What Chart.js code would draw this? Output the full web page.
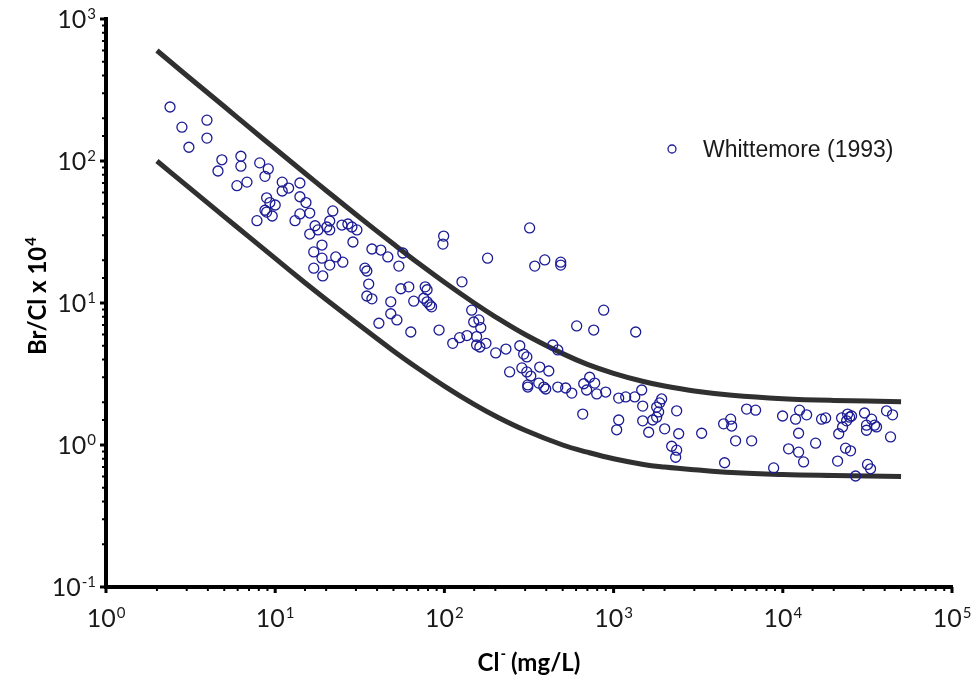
<!DOCTYPE html>
<html>
<head>
<meta charset="utf-8">
<title>Br/Cl vs Cl</title>
<script src="https://cdn.jsdelivr.net/npm/chart.js@4.4.1/dist/chart.umd.min.js"></script>
<style>
  html, body { margin: 0; padding: 0; background: #fff; }
  #wrap { position: relative; width: 978px; height: 675px; }
</style>
</head>
<body>
<div id="wrap"><canvas id="chart"></canvas></div>
<script>
// Whittemore (1993) samples: Cl- (mg/L) and Br/Cl x 10^4
var clValues = [
  2.39, 2.81, 3.95, 3.09, 3.95, 4.84, 4.59, 6.27, 6.27, 6.81, 5.94,
  8.1, 9.1, 8.7, 11.0, 12.0, 11.0, 14.0, 14.0, 15.2, 8.9, 9.3, 10.0, 8.7, 8.9, 9.6, 7.8, 13.1, 14.0, 16.0,
  21.9, 21.0, 17.2, 16.0, 17.9, 20.2, 21.0, 24.8, 26.9, 28.4, 30.4, 28.8, 18.9, 16.9, 18.9, 22.8, 25.1,
  21.0, 16.9, 19.1, 37.3, 42.1, 46.3, 56.8, 53.8, 33.9, 34.8, 35.7, 34.8, 37.3, 55.3, 61.6, 48.2, 65.9,
  48.2, 52.4, 41.0, 63.3,
  99, 98, 319, 180, 342, 392, 487, 487, 127, 77, 79, 75.5, 79, 82, 84, 874, 605, 763, 1351, 93,
  145, 149, 160, 164, 112, 123, 136, 155, 155, 162, 176, 201, 231, 279, 294, 307, 437, 468,
  243, 287, 307, 324, 366, 414, 311, 311, 361, 387, 397, 468, 521, 566, 722, 666, 773, 693, 795, 898,
  657, 1072, 1179, 1333, 1072, 1043,
  1466, 1486, 1486, 1612, 1702, 1797, 1923, 1872, 1846, 1797, 2004, 2359, 2425, 2204, 2359, 2327,
  3314, 4530, 4470, 4919, 4988, 5260, 6546, 6112, 6906, 8830,
  9970, 12560, 11900, 13830, 12400, 10820, 12400, 13270, 15630, 16950, 17910, 22250, 22550, 21400,
  24150, 24820, 25490, 23830, 21080, 23500, 25140, 30410, 33480, 31240, 31240, 34850, 35810,
  41030, 44540, 43330, 31680, 33010, 26920
];
var brclValues = [
  240, 173, 194, 125, 145, 102, 85, 108, 92, 71, 67,
  97, 88, 78, 71, 64.5, 61.5, 70, 56, 51, 55, 51, 49, 45, 43.7, 41, 38, 38, 42.4, 43,
  44.5, 37.8, 35, 30.6, 32.7, 34.3, 32.7, 35.4, 36, 34.3, 32.7, 26.9, 25.6, 22.9, 20.7, 21.1, 19.4,
  18.5, 17.6, 15.5, 24, 23.6, 21.1, 22.5, 18.2, 17.6, 16.8, 13.6, 11.2, 10.7, 12.6, 13, 10.2, 10.3,
  8.4, 7.6, 7.2, 6.25,
  29.6, 26, 33.8, 20.7, 18.2, 20.1, 19.4, 18.5, 14.1, 13, 12.4, 10.8, 10.2, 9.7, 9.4, 8.9, 6.9, 6.45, 6.25, 6.45,
  8.9, 7.35, 7.6, 6.7, 5.2, 5.7, 5.9, 5.8, 5.06, 4.9, 5.2, 4.45, 4.74, 5.0, 4.37, 4.17, 5.06, 4.67,
  3.27, 3.49, 3.27, 3.06, 3.54, 3.32, 2.56, 2.65, 2.73, 2.56, 2.48, 2.56, 2.52, 2.32, 3.0, 2.7, 2.73, 2.44, 2.29, 2.36,
  1.65, 2.14, 2.18, 2.18, 1.5, 1.28,
  2.44, 1.88, 1.48, 1.23, 1.5, 1.85, 2.11, 1.98, 1.71, 1.57, 1.3, 1.74, 1.2, 0.98, 0.92, 0.82,
  1.21, 0.75, 1.41, 1.52, 1.36, 1.07, 1.07, 1.79, 1.76, 0.69,
  1.6, 1.76, 1.52, 1.63, 1.21, 0.94, 0.89, 0.76, 1.03, 1.52, 1.55, 1.55, 1.34, 1.2,
  1.65, 1.57, 1.6, 1.48, 0.77, 0.95, 0.91, 1.68, 1.52, 1.38, 1.27, 1.38, 1.34,
  1.74, 1.63, 1.14, 0.73, 0.68, 0.605
];

// envelope lines
var envelopeCl = [2, 3, 5, 7, 10, 15, 20, 30, 50, 70, 100, 150, 200, 300, 500, 700, 1000, 1500, 2000, 3000, 5000, 10000, 20000, 50000];
var upperBrCl = [600, 400, 242, 173, 122, 82, 62, 42, 26, 19.1, 14, 10, 8, 6, 4.4, 3.7, 3.2, 2.8, 2.6, 2.4, 2.24, 2.12, 2.06, 2.02];
var lowerBrCl = [100, 67, 40.6, 29.2, 20.6, 13.9, 10.6, 7.3, 4.6, 3.46, 2.6, 1.93, 1.6, 1.27, 1.0, 0.89, 0.8, 0.73, 0.7, 0.67, 0.64, 0.62, 0.61, 0.6];

var xExponents = [0, 1, 2, 3, 4, 5];
var yExponents = [-1, 0, 1, 2, 3];
var seriesLabel = 'Whittemore (1993)';

var pointColor = '#1c1c96';
var lineColor = '#303030';

function pairs(xs, ys) {
  return xs.map(function(x, i) { return {x: x, y: ys[i]}; });
}

function isDecade(v) {
  var l = Math.log10(v);
  return Math.abs(l - Math.round(l)) < 1e-6;
}

// "10" with a raised exponent; align: 'center' or 'right'
function drawPower(ctx, exp, x, baseline, align) {
  var base = '10', sup = String(exp);
  ctx.font = '25px Lato';
  var wb = ctx.measureText(base).width;
  ctx.font = '15px Lato';
  var ws = ctx.measureText(sup).width;
  var start = align === 'center' ? x - (wb + ws + 1) / 2 : x - (wb + ws + 1);
  ctx.textAlign = 'left';
  ctx.textBaseline = 'alphabetic';
  ctx.font = '25px Lato';
  ctx.fillText(base, start, baseline);
  ctx.font = '15px Lato';
  ctx.fillText(sup, start + wb + 1, baseline - 9);
}

var decor = {
  id: 'decor',
  afterDraw: function(chart) {
    var ctx = chart.ctx;
    var xs = chart.scales.x, ys = chart.scales.y;
    var area = chart.chartArea;
    ctx.save();
    ctx.strokeStyle = '#000';
    ctx.fillStyle = '#000';

    // tick marks
    xs.ticks.forEach(function(t) {
      var p = xs.getPixelForValue(t.value);
      var major = isDecade(t.value);
      ctx.lineWidth = major ? 3 : 2;
      ctx.beginPath();
      ctx.moveTo(p, area.bottom);
      ctx.lineTo(p, area.bottom + (major ? 6 : 4));
      ctx.stroke();
    });
    ys.ticks.forEach(function(t) {
      var p = ys.getPixelForValue(t.value);
      var major = isDecade(t.value);
      ctx.lineWidth = major ? 3 : 2;
      ctx.beginPath();
      ctx.moveTo(area.left, p);
      ctx.lineTo(area.left - (major ? 6 : 4), p);
      ctx.stroke();
    });

    // tick labels
    ctx.fillStyle = '#1a1a1a';
    xExponents.forEach(function(e) {
      drawPower(ctx, e, xs.getPixelForValue(Math.pow(10, e)), 627, 'center');
    });
    yExponents.forEach(function(e) {
      drawPower(ctx, e, 96, ys.getPixelForValue(Math.pow(10, e)) + 9, 'right');
    });

    // axis titles
    ctx.fillStyle = '#000';
    ctx.font = 'bold 24px Lato';
    var t1 = 'Cl', t2 = ' (mg/L)';
    var w1 = ctx.measureText(t1).width, w2 = ctx.measureText(t2).width;
    ctx.font = 'bold 15px Lato';
    var wm = ctx.measureText('-').width;
    var sx = 529 - (w1 + wm + w2) / 2;
    ctx.textAlign = 'left';
    ctx.font = 'bold 24px Lato';
    ctx.fillText(t1, sx, 671);
    ctx.fillText(t2, sx + w1 + wm, 671);
    ctx.font = 'bold 15px Lato';
    ctx.fillText('-', sx + w1 + 1, 659);

    ctx.translate(46, 296);
    ctx.rotate(-Math.PI / 2);
    ctx.font = 'bold 24px Lato';
    var y1 = 'Br/Cl x 10';
    var wy = ctx.measureText(y1).width;
    ctx.font = 'bold 15px Lato';
    var wy4 = ctx.measureText('4').width;
    var sy = -(wy + wy4 + 1) / 2;
    ctx.font = 'bold 24px Lato';
    ctx.fillText(y1, sy, 0);
    ctx.font = 'bold 15px Lato';
    ctx.fillText('4', sy + wy + 1, -10);
    ctx.setTransform(1, 0, 0, 1, 0, 0);

    // legend
    ctx.strokeStyle = pointColor;
    ctx.lineWidth = 1.3;
    ctx.beginPath();
    ctx.arc(672, 149, 4, 0, Math.PI * 2);
    ctx.stroke();
    ctx.fillStyle = '#1a1a1a';
    ctx.font = '23px "Liberation Sans", Arial, sans-serif';
    ctx.fillText(seriesLabel, 703, 157);
    ctx.restore();
  }
};

new Chart(document.getElementById('chart'), {
  type: 'scatter',
  data: {
    datasets: [{
      label: seriesLabel,
      data: pairs(clValues, brclValues),
      pointRadius: 5,
      pointBorderWidth: 1.3,
      pointBorderColor: pointColor,
      pointBackgroundColor: 'rgba(0,0,0,0)',
      pointHoverRadius: 5
    }, {
      label: 'upper',
      data: pairs(envelopeCl, upperBrCl),
      showLine: true,
      pointRadius: 0,
      borderColor: lineColor,
      borderWidth: 5,
      tension: 0.4,
      fill: false
    }, {
      label: 'lower',
      data: pairs(envelopeCl, lowerBrCl),
      showLine: true,
      pointRadius: 0,
      borderColor: lineColor,
      borderWidth: 5,
      tension: 0.4,
      fill: false
    }]
  },
  options: {
    responsive: true,
    maintainAspectRatio: false,
    animation: false,
    layout: { padding: { top: 19, right: 26, left: 0, bottom: 0 } },
    plugins: { legend: { display: false }, tooltip: { enabled: false } },
    scales: {
      x: {
        type: 'logarithmic',
        min: 1,
        max: 100000,
        grid: { display: false },
        ticks: { display: false },
        border: { display: true, color: '#000', width: 4 },
        afterFit: function(scale) { scale.height = 88; }
      },
      y: {
        type: 'logarithmic',
        min: 0.1,
        max: 1000,
        grid: { display: false },
        ticks: { display: false },
        border: { display: true, color: '#000', width: 4 },
        afterFit: function(scale) { scale.width = 106; }
      }
    }
  },
  plugins: [decor]
});
</script>
</body>
</html>
